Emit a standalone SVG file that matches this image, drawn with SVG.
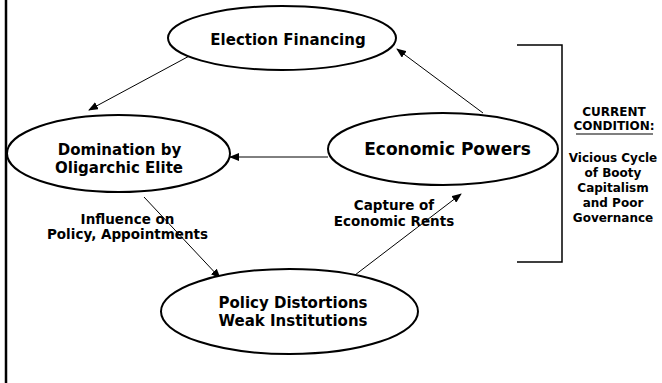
<svg xmlns="http://www.w3.org/2000/svg" width="662" height="383" viewBox="0 0 662 383">
<style>
.node{fill:#fff;stroke:#000;stroke-width:2}
.t{font-family:"DejaVu Sans",Verdana,sans-serif;font-weight:bold;fill:#000;text-anchor:middle}
.n{font-size:15px}
.big{font-size:17px}
.lbl{font-size:13.5px}
.side{font-size:12px}
.c{stroke:#000;stroke-width:1;fill:none;marker-end:url(#ah)}
</style>
<defs>
<marker id="ah" markerWidth="10" markerHeight="8" refX="9" refY="4" orient="auto" markerUnits="userSpaceOnUse">
<path d="M0,0 L10,4 L0,8 Z" fill="#000"/>
</marker>
</defs>
<rect width="662" height="383" fill="#fff"/>
<line x1="6" y1="0" x2="6" y2="383" stroke="#000" stroke-width="2.5"/>
<g id="connectors">
<line class="c" x1="193" y1="54" x2="89" y2="110"/>
<line class="c" x1="483" y1="113" x2="397" y2="49"/>
<line class="c" x1="328" y1="157" x2="230" y2="157"/>
<line class="c" x1="144" y1="197" x2="220" y2="278"/>
<line class="c" x1="355" y1="275" x2="461" y2="194"/>
</g>
<g id="election">
<ellipse class="node" cx="282" cy="38" rx="114" ry="32"/>
<text class="t n" x="288" y="45">Election Financing</text>
</g>
<g id="domination">
<ellipse class="node" cx="118.5" cy="153.5" rx="111.5" ry="38.5"/>
<text class="t n" x="119.5" y="155">Domination by</text>
<text class="t n" x="119" y="172.5">Oligarchic Elite</text>
</g>
<g id="economic">
<ellipse class="node" cx="443" cy="149" rx="115" ry="36"/>
<text class="t big" x="447.5" y="155">Economic Powers</text>
</g>
<g id="policy">
<ellipse class="node" cx="289.5" cy="311.5" rx="128.5" ry="42.5"/>
<text class="t n" x="293" y="308">Policy Distortions</text>
<text class="t n" x="293" y="326">Weak Institutions</text>
</g>
<g id="labels">
<text class="t lbl" x="127.5" y="224">Influence on</text>
<text class="t lbl" x="127.5" y="239">Policy, Appointments</text>
<text class="t lbl" x="394" y="210">Capture of</text>
<text class="t lbl" x="394" y="226">Economic Rents</text>
</g>
<g id="condition">
<polyline points="517,45 562,45 562,262 517,262" fill="none" stroke="#000" stroke-width="1.5"/>
<text class="t side" x="614" y="116">CURRENT</text>
<text class="t side" x="614" y="130">CONDITION:</text>
<line x1="576" y1="134" x2="653" y2="134" stroke="#000" stroke-width="1.2"/>
<text class="t side" x="613" y="162">Vicious Cycle</text>
<text class="t side" x="613" y="177">of Booty</text>
<text class="t side" x="613" y="192">Capitalism</text>
<text class="t side" x="613" y="207">and Poor</text>
<text class="t side" x="613" y="222">Governance</text>
</g>
</svg>
